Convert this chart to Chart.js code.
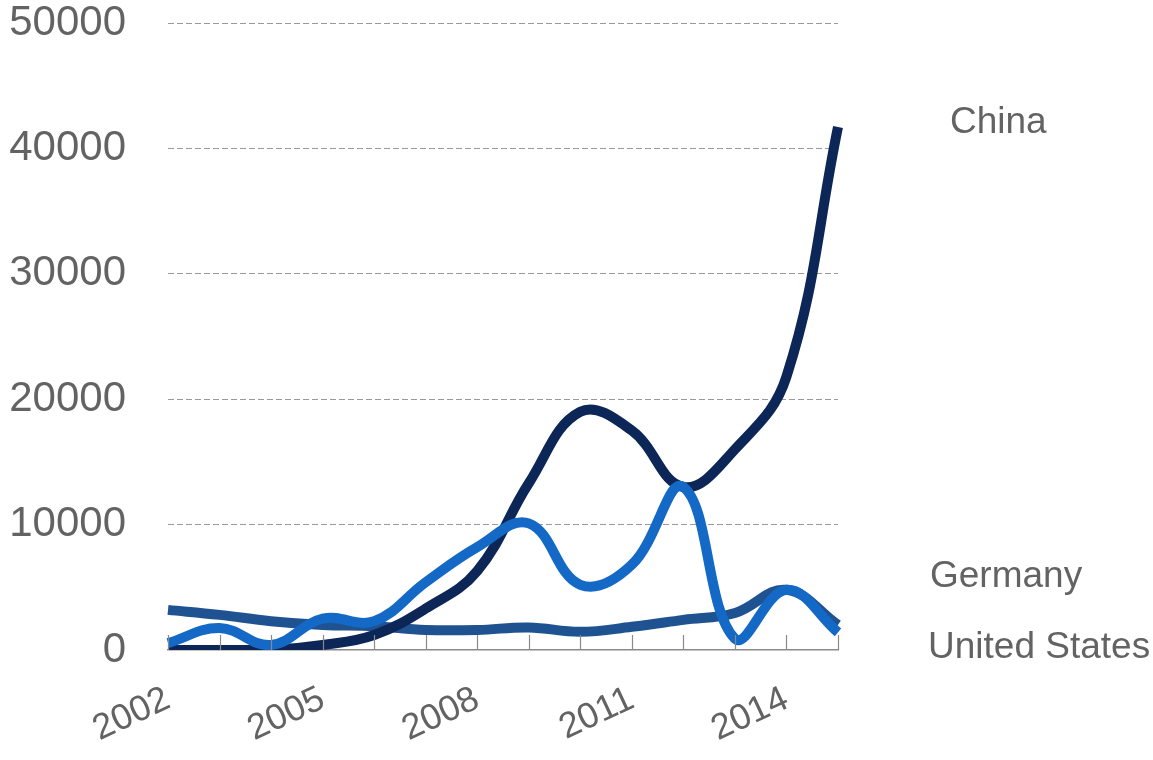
<!DOCTYPE html>
<html>
<head>
<meta charset="utf-8">
<script src="https://cdn.jsdelivr.net/npm/chart.js@4.4.1/dist/chart.umd.min.js"></script>
<style>
  html, body { margin: 0; padding: 0; background: #ffffff; }
  #wrap { width: 1153px; height: 760px; position: relative; }
</style>
</head>
<body>
<div id="wrap"><canvas id="c" width="1153" height="760"></canvas></div>
<script>
const years = ['2002','2003','2004','2005','2006','2007','2008','2009','2010','2011','2012','2013','2014','2015'];
const xTickLabels = ['2002','2005','2008','2011','2014'];
const yTicks = [0, 10000, 20000, 30000, 40000, 50000];
const seriesNames = ['United States', 'China', 'Germany'];
const usValues      = [550, 1750, 400, 2500, 2300, 5400, 8200, 10100, 5200, 6800, 13000, 900, 4800, 1400];
const chinaValues   = [0, 0, 0, 400, 1200, 3300, 6300, 13300, 19000, 17500, 13000, 16000, 21800, 41700];
const germanyValues = [3200, 2800, 2300, 2000, 1900, 1600, 1600, 1800, 1450, 1850, 2400, 2950, 4800, 2000];

const FONT = '"Liberation Sans", Arial, sans-serif';
const TEXT = '#636363';

const innerTicks = {
  id: 'innerTicks',
  afterDatasetsDraw(chart) {
    const x = chart.scales.x, ctx = chart.ctx, y0 = chart.chartArea.bottom;
    ctx.save();
    ctx.strokeStyle = '#8a8a8a';
    ctx.lineWidth = 1.2;
    for (let i = 0; i < years.length; i++) {
      const px = Math.round(x.getPixelForValue(i)) + 0.5;
      ctx.beginPath();
      ctx.moveTo(px, y0);
      ctx.lineTo(px, y0 - 15);
      ctx.stroke();
    }
    ctx.restore();
  }
};

const sideLabels = {
  id: 'sideLabels',
  afterDraw(chart) {
    const ctx = chart.ctx, r = chart.chartArea.right;
    const pos = { 'China': [r + 112, 123], 'Germany': [r + 92, 577], 'United States': [r + 90, 648] };
    ctx.save();
    ctx.font = '37px ' + FONT;
    ctx.fillStyle = TEXT;
    ctx.textAlign = 'left';
    ctx.textBaseline = 'middle';
    chart.data.datasets.forEach(ds => {
      const p = pos[ds.label];
      if (p) ctx.fillText(ds.label, p[0], p[1]);
    });
    ctx.restore();
  }
};

new Chart(document.getElementById('c'), {
  type: 'line',
  data: {
    labels: years,
    datasets: [
      { label: seriesNames[0], data: usValues, borderColor: '#1569c6', borderWidth: 10, tension: 0.4, pointRadius: 0, fill: false },
      { label: seriesNames[1], data: chinaValues, borderColor: '#0b2657', borderWidth: 10, tension: 0.4, pointRadius: 0, fill: false },
      { label: seriesNames[2], data: germanyValues, borderColor: '#1f5290', borderWidth: 10, tension: 0.4, pointRadius: 0, fill: false }
    ]
  },
  options: {
    responsive: false,
    animation: false,
    devicePixelRatio: 1,
    layout: { padding: { left: 0, right: 315, top: 23, bottom: 0 }, autoPadding: false },
    plugins: { legend: { display: false }, tooltip: { enabled: false } },
    scales: {
      x: {
        type: 'category',
        offset: false,
        grid: { display: false, drawTicks: false },
        border: { display: true, color: '#8a8a8a', width: 1.5 },
        ticks: {
          autoSkip: false,
          minRotation: 25,
          maxRotation: 25,
          padding: 28,
          color: TEXT,
          font: { family: FONT, size: 36 },
          callback: function (v, i) { const l = years[i]; return xTickLabels.includes(l) ? l : ''; }
        },
        afterFit: s => { s.height = 110; s.paddingLeft = 0; s.paddingRight = 0; }
      },
      y: {
        min: 0,
        max: 50000,
        afterBuildTicks: s => { s.ticks = yTicks.map(v => ({ value: v })); },
        grid: {
          drawTicks: false,
          color: c => (c.tick && c.tick.value === 0) ? 'rgba(0,0,0,0)' : '#9a9a9a',
          lineWidth: 1
        },
        border: { display: false, dash: [6, 3] },
        ticks: {
          padding: 42,
          color: TEXT,
          font: { family: FONT, size: 42 },
          callback: v => String(v)
        },
        afterFit: s => { s.width = 168; s.paddingTop = 0; s.paddingBottom = 0; }
      }
    }
  },
  plugins: [innerTicks, sideLabels]
});
</script>
</body>
</html>
